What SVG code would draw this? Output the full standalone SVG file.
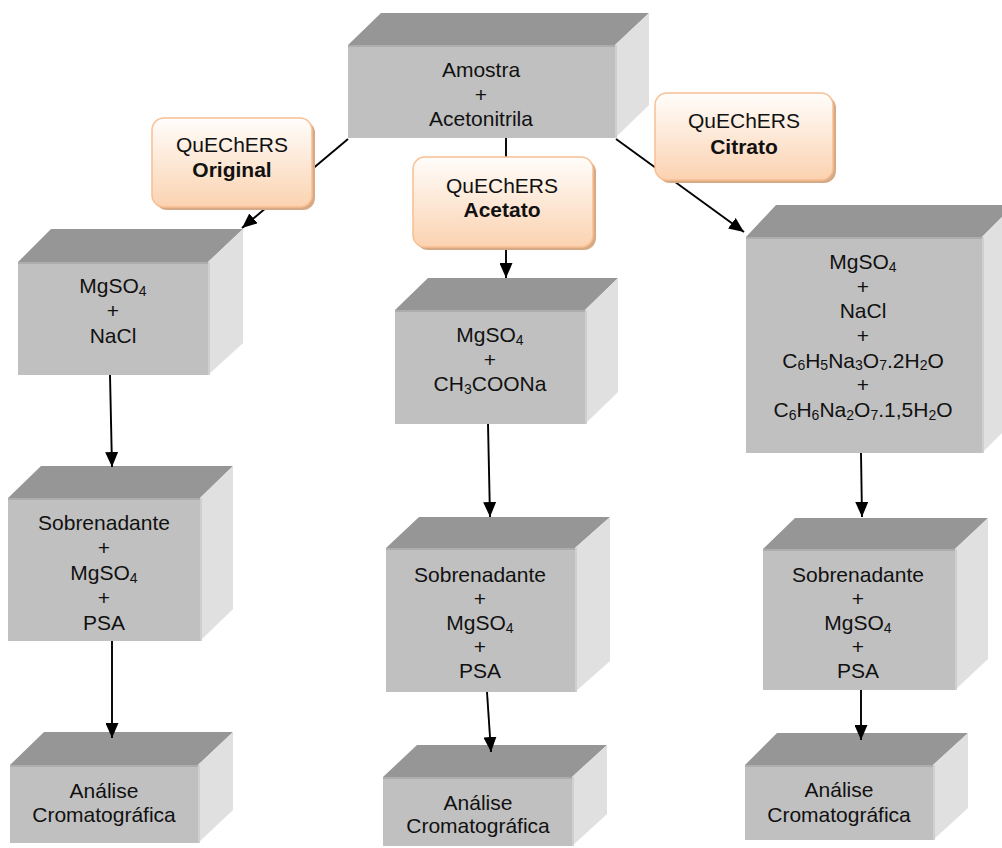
<svg xmlns="http://www.w3.org/2000/svg" width="1002" height="848" viewBox="0 0 1002 848">
<defs>
<style>
.front{fill:#c0c0c0}
.top{fill:#969696}
.side{fill:#e0e0e0}
.edge{stroke:#adadad;stroke-width:2;fill:none}
.sedge{stroke:#cfcfcf;stroke-width:2;fill:none}
.t{font-family:"Liberation Sans",Arial,sans-serif;font-size:21px;fill:#111;text-anchor:middle}
.b{font-weight:bold}
.sub{font-size:14px}
.conn{stroke:#000;stroke-width:1.9;fill:none}
.lbl{fill:url(#peach);stroke:#f8bf93;stroke-width:1.5}
.shd{fill:#d7aa86}
</style>
<linearGradient id="peach" x1="0" y1="0" x2="0" y2="1">
<stop offset="0" stop-color="#fffdfb"/>
<stop offset="0.5" stop-color="#fde8d6"/>
<stop offset="1" stop-color="#fbd2b0"/>
</linearGradient>
<marker id="ah" markerUnits="userSpaceOnUse" viewBox="0 0 15 13" markerWidth="15" markerHeight="13" refX="15" refY="6.5" orient="auto">
<path d="M0,0 L15,6.5 L0,13 z" fill="#000"/>
</marker>
</defs>
<rect width="1002" height="848" fill="#fff"/>

<!-- Top box -->
<g id="amostra">
<polygon class="top" points="348,45 381,13 649,13 615,45"/>
<polygon class="side" points="615,45 649,13 649,105 615,138"/>
<rect class="front" x="348" y="45" width="267" height="93"/>
<line class="edge" x1="348" y1="46" x2="615" y2="46"/>
<line class="sedge" x1="616" y1="45" x2="616" y2="138"/>
<text class="t" x="481" y="77">Amostra</text>
<text class="t" x="481" y="101.5">+</text>
<text class="t" x="481" y="126">Acetonitrila</text>
</g>

<!-- Left column -->
<g id="orig-sais">
<polygon class="top" points="18,262 51,229 243,229 208,262"/>
<polygon class="side" points="208,262 243,229 243,343 208,375"/>
<rect class="front" x="18" y="262" width="190" height="113"/>
<line class="edge" x1="18" y1="263" x2="208" y2="263"/>
<line class="sedge" x1="209" y1="262" x2="209" y2="375"/>
<text class="t" x="113" y="293">MgSO<tspan class="sub" dy="2.5">4</tspan></text>
<text class="t" x="113" y="318">+</text>
<text class="t" x="113" y="343">NaCl</text>
</g>

<g id="orig-limpeza">
<polygon class="top" points="8,498 41,466 233,466 200,498"/>
<polygon class="side" points="200,498 233,466 233,609 200,641"/>
<rect class="front" x="8" y="498" width="192" height="143"/>
<line class="edge" x1="8" y1="499" x2="200" y2="499"/>
<line class="sedge" x1="201" y1="498" x2="201" y2="641"/>
<text class="t" x="104" y="530">Sobrenadante</text>
<text class="t" x="104" y="555">+</text>
<text class="t" x="104" y="580">MgSO<tspan class="sub" dy="2.5">4</tspan></text>
<text class="t" x="104" y="605">+</text>
<text class="t" x="104" y="630">PSA</text>
</g>

<g id="orig-analise">
<polygon class="top" points="10,765 44,732 233,732 198,765"/>
<polygon class="side" points="198,765 233,732 233,810 198,843"/>
<rect class="front" x="10" y="765" width="188" height="78"/>
<line class="edge" x1="10" y1="766" x2="198" y2="766"/>
<line class="sedge" x1="199" y1="765" x2="199" y2="843"/>
<text class="t" x="104" y="798">Análise</text>
<text class="t" x="104" y="822">Cromatográfica</text>
</g>

<!-- Middle column -->
<g id="acet-sais">
<polygon class="top" points="395,310 428,278 618,278 585,310"/>
<polygon class="side" points="585,310 618,278 618,392 585,424"/>
<rect class="front" x="395" y="310" width="190" height="114"/>
<line class="edge" x1="395" y1="311" x2="585" y2="311"/>
<line class="sedge" x1="586" y1="310" x2="586" y2="424"/>
<text class="t" x="490" y="342">MgSO<tspan class="sub" dy="2.5">4</tspan></text>
<text class="t" x="490" y="366.5">+</text>
<text class="t" x="490" y="391">CH<tspan class="sub" dy="2.5">3</tspan><tspan dy="-2.5">COONa</tspan></text>
</g>

<g id="acet-limpeza">
<polygon class="top" points="386,548 419,517 610,517 575,548"/>
<polygon class="side" points="575,548 610,517 610,661 575,692"/>
<rect class="front" x="386" y="548" width="189" height="144"/>
<line class="edge" x1="386" y1="549" x2="575" y2="549"/>
<line class="sedge" x1="576" y1="548" x2="576" y2="692"/>
<text class="t" x="480" y="582">Sobrenadante</text>
<text class="t" x="480" y="606">+</text>
<text class="t" x="480" y="630">MgSO<tspan class="sub" dy="2.5">4</tspan></text>
<text class="t" x="480" y="654">+</text>
<text class="t" x="480" y="678">PSA</text>
</g>

<g id="acet-analise">
<polygon class="top" points="383,777 417,745 607,745 572,777"/>
<polygon class="side" points="572,777 607,745 607,814 572,846"/>
<rect class="front" x="383" y="777" width="189" height="69"/>
<line class="edge" x1="383" y1="778" x2="572" y2="778"/>
<line class="sedge" x1="573" y1="777" x2="573" y2="846"/>
<text class="t" x="478" y="810">Análise</text>
<text class="t" x="478" y="833">Cromatográfica</text>
</g>

<!-- Right column -->
<g id="citr-sais">
<polygon class="top" points="746,237 776,205 1014,205 982,237"/>
<polygon class="side" points="982,237 1014,205 1014,421 982,453"/>
<rect class="front" x="746" y="237" width="236" height="216"/>
<line class="edge" x1="746" y1="238" x2="982" y2="238"/>
<line class="sedge" x1="983" y1="237" x2="983" y2="453"/>
<text class="t" x="863" y="269">MgSO<tspan class="sub" dy="2.5">4</tspan></text>
<text class="t" x="863" y="293.7">+</text>
<text class="t" x="863" y="318.3">NaCl</text>
<text class="t" x="863" y="343">+</text>
<text class="t" x="863" y="367.7">C<tspan class="sub" dy="2.5">6</tspan><tspan dy="-2.5">H</tspan><tspan class="sub" dy="2.5">5</tspan><tspan dy="-2.5">Na</tspan><tspan class="sub" dy="2.5">3</tspan><tspan dy="-2.5">O</tspan><tspan class="sub" dy="2.5">7</tspan><tspan dy="-2.5">.2H</tspan><tspan class="sub" dy="2.5">2</tspan><tspan dy="-2.5">O</tspan></text>
<text class="t" x="863" y="392.3">+</text>
<text class="t" x="863" y="417">C<tspan class="sub" dy="2.5">6</tspan><tspan dy="-2.5">H</tspan><tspan class="sub" dy="2.5">6</tspan><tspan dy="-2.5">Na</tspan><tspan class="sub" dy="2.5">2</tspan><tspan dy="-2.5">O</tspan><tspan class="sub" dy="2.5">7</tspan><tspan dy="-2.5">.1,5H</tspan><tspan class="sub" dy="2.5">2</tspan><tspan dy="-2.5">O</tspan></text>
</g>

<g id="citr-limpeza">
<polygon class="top" points="763,549 795,518 988,518 955,549"/>
<polygon class="side" points="955,549 988,518 988,659 955,690"/>
<rect class="front" x="763" y="549" width="192" height="141"/>
<line class="edge" x1="763" y1="550" x2="955" y2="550"/>
<line class="sedge" x1="956" y1="549" x2="956" y2="690"/>
<text class="t" x="858" y="582">Sobrenadante</text>
<text class="t" x="858" y="606">+</text>
<text class="t" x="858" y="630">MgSO<tspan class="sub" dy="2.5">4</tspan></text>
<text class="t" x="858" y="654">+</text>
<text class="t" x="858" y="678">PSA</text>
</g>

<g id="citr-analise">
<polygon class="top" points="745,765 777,733 968,733 933,765"/>
<polygon class="side" points="933,765 968,733 968,808 933,840"/>
<rect class="front" x="745" y="765" width="188" height="75"/>
<line class="edge" x1="745" y1="766" x2="933" y2="766"/>
<line class="sedge" x1="934" y1="765" x2="934" y2="840"/>
<text class="t" x="839" y="797">Análise</text>
<text class="t" x="839" y="822">Cromatográfica</text>
</g>

<!-- Connectors -->
<g id="connectors">
<path class="conn" d="M348,139 L242,228" marker-end="url(#ah)"/>
<path class="conn" d="M506,138 L506,278" marker-end="url(#ah)"/>
<path class="conn" d="M616,139 L744,232" marker-end="url(#ah)"/>
<path class="conn" d="M110,375 L112,467" marker-end="url(#ah)"/>
<path class="conn" d="M112,641 L112,738" marker-end="url(#ah)"/>
<path class="conn" d="M488,424 L490,517" marker-end="url(#ah)"/>
<path class="conn" d="M487,692 L491,752" marker-end="url(#ah)"/>
<path class="conn" d="M861,453 L862,517" marker-end="url(#ah)"/>
<path class="conn" d="M861,690 L861,740" marker-end="url(#ah)"/>
</g>

<!-- Method labels -->
<g id="lbl-original">
<rect class="shd" x="155" y="121" width="160" height="89" rx="12"/>
<rect class="lbl" x="152" y="118" width="160" height="89" rx="12"/>
<text class="t" x="232" y="152">QuEChERS</text>
<text class="t b" x="232" y="177">Original</text>
</g>

<g id="lbl-acetato">
<rect class="shd" x="416" y="160" width="180" height="90" rx="12"/>
<rect class="lbl" x="413" y="157" width="180" height="90" rx="12"/>
<text class="t" x="502" y="193">QuEChERS</text>
<text class="t b" x="502" y="217">Acetato</text>
</g>

<g id="lbl-citrato">
<rect class="shd" x="658" y="96" width="178" height="87" rx="12"/>
<rect class="lbl" x="655" y="93" width="178" height="87" rx="12"/>
<text class="t" x="744" y="128">QuEChERS</text>
<text class="t b" x="744" y="154">Citrato</text>
</g>
</svg>
